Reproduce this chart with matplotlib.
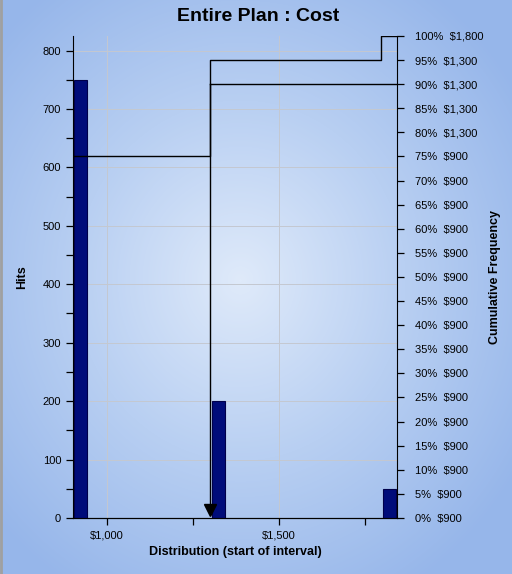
import matplotlib.pyplot as plt
import matplotlib.ticker as mticker
import numpy as np
from matplotlib.colors import LinearSegmentedColormap

plt.rcParams['font.family'] = ['Liberation Sans', 'DejaVu Sans']

# data
bar_start = [905, 1306, 1802]     # start of interval ($)
bar_width = 37
hits = [750, 200, 50]

cum_x = [901, 1300, 1300, 1797, 1797, 1843]
cum_pct = [75, 75, 95, 95, 100, 100]
cert_pct = 90
cert_x = 1300

pct_ticks = list(range(0, 101, 5))
pct_values = ['$900'] * 16 + ['$1,300'] * 4 + ['$1,800']

fig = plt.figure(figsize=(5.12, 5.74), dpi=100)

# background gradient
bg = fig.add_axes([0, 0, 1, 1], zorder=-10)
yy, xx = np.mgrid[0:574, 0:512]
r = np.sqrt(((xx - 240) / 330.0) ** 2 + ((yy - 280) / 360.0) ** 2)
cmap = LinearSegmentedColormap.from_list('bg', ['#dfeafa', '#b8cff2', '#96b6ea'])
bg.imshow(np.clip(r, 0, 1), cmap=cmap, aspect='auto', extent=[0, 512, 574, 0])
bg.axvline(1.0, color='#a0a0a0', linewidth=2)
bg.set_xlim(0, 512)
bg.set_ylim(574, 0)
bg.axis('off')

ax = fig.add_axes([0.1426, 0.0976, 0.6328, 0.8397])
ax.patch.set_alpha(0)
ax.bar(bar_start, hits, width=bar_width, align='edge', color='#000c7a',
       edgecolor='#00004a', linewidth=0.8, zorder=3)
ax.set_xlim(901, 1843)
ax.set_ylim(0, 825)
ax.xaxis.set_major_locator(mticker.FixedLocator([1000, 1500]))
ax.xaxis.set_minor_locator(mticker.FixedLocator([1250, 1750]))
ax.xaxis.set_major_formatter(mticker.FuncFormatter(lambda v, p: '${:,.0f}'.format(v)))
ax.yaxis.set_major_locator(mticker.MultipleLocator(100))
ax.yaxis.set_minor_locator(mticker.MultipleLocator(50))
ax.grid(True, which='major', color='#c4c8d0', linewidth=0.7, zorder=0)
ax.tick_params(which='both', direction='out', labelsize=8, length=5, width=0.9, colors='black')
ax.tick_params(axis='x', pad=4)
ax.spines['top'].set_visible(False)
ax.spines['right'].set_visible(False)
ax.set_xlabel('Distribution (start of interval)', fontsize=9, fontweight='bold', labelpad=4)
ax.set_ylabel('Hits', fontsize=9, fontweight='bold')
ax.yaxis.set_label_coords(-0.14, 0.5)

ax2 = ax.twinx()
ax2.set_ylim(0, 100)
ax2.plot(cum_x, cum_pct, color='black', linewidth=1.0, zorder=4)
ax2.plot([cert_x, 1843], [cert_pct, cert_pct], color='black', linewidth=1.0)
ax2.plot([cert_x, cert_x], [cert_pct, 1.5], color='black', linewidth=1.0)
ax2.plot([cert_x], [1.6], marker='v', color='black', markersize=9, clip_on=False)
ax2.set_yticks(pct_ticks)
ax2.set_yticklabels(['{}%  {}'.format(p, v) for p, v in zip(pct_ticks, pct_values)])
ax2.tick_params(direction='out', labelsize=8, length=5, width=0.9, pad=8)
ax2.spines['top'].set_visible(False)
ax2.spines['left'].set_visible(False)
ax2.set_ylabel('Cumulative Frequency', fontsize=9, fontweight='bold', labelpad=4)

fig.text(0.504, 0.972, 'Entire Plan : Cost', ha='center', va='center',
         fontsize=14, fontweight='bold')

fig.savefig('out.png', dpi=100)
